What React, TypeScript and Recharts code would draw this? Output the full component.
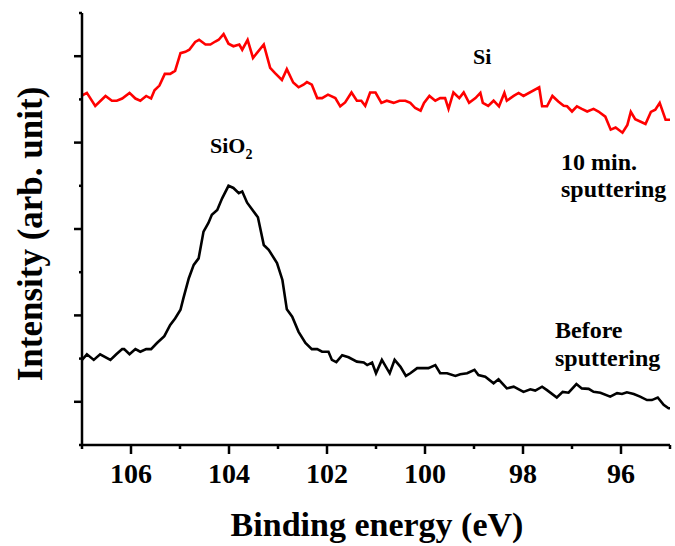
import React from 'react';
import { LineChart, Line, XAxis, YAxis } from 'recharts';

// binding energy (eV) and intensity (arb. unit), after 10 min. sputtering
const sputteredEnergy = [
  107.0, 106.9, 106.73, 106.52, 106.39, 106.29, 106.18, 106.03, 105.91, 105.81,
  105.69, 105.59, 105.52, 105.42, 105.31, 105.2, 105.1, 104.99, 104.89, 104.81,
  104.69, 104.61, 104.48, 104.38, 104.28, 104.21, 104.11, 104.01, 103.91, 103.79,
  103.73, 103.62, 103.51, 103.29, 103.16, 103.06, 102.92, 102.82, 102.69, 102.58,
  102.48, 102.41, 102.31, 102.2, 102.1, 101.98, 101.83, 101.73, 101.63, 101.5,
  101.39, 101.3, 101.22, 101.12, 101.01, 100.89, 100.78, 100.64, 100.52, 100.4,
  100.3, 100.2, 100.09, 100.02, 99.91, 99.79, 99.69, 99.59, 99.52, 99.42,
  99.3, 99.21, 99.1, 98.97, 98.87, 98.82, 98.71, 98.6, 98.49, 98.38,
  98.33, 98.19, 98.09, 97.99, 97.67, 97.61, 97.51, 97.4, 97.28, 97.17,
  97.1, 97.0, 96.9, 96.8, 96.69, 96.56, 96.46, 96.32, 96.21, 96.11,
  95.97, 95.87, 95.8, 95.71, 95.5, 95.39, 95.3, 95.21, 95.09, 95.0,
];
const sputteredIntensity = [
  8.09, 8.15, 7.85, 8.08, 7.97, 7.97, 8.02, 8.15, 8.02, 7.97,
  8.08, 8.02, 8.21, 8.32, 8.59, 8.59, 8.66, 9.07, 9.1, 9.15,
  9.33, 9.38, 9.27, 9.27, 9.34, 9.38, 9.51, 9.29, 9.23, 9.27,
  9.15, 9.38, 8.96, 9.27, 8.73, 8.61, 8.45, 8.7, 8.39, 8.28,
  8.34, 8.4, 8.34, 8.03, 8.03, 8.11, 8.03, 7.84, 7.93, 8.16,
  7.97, 7.97, 7.85, 8.16, 8.16, 7.92, 7.97, 7.92, 7.97, 7.97,
  7.92, 7.8, 7.74, 7.92, 8.08, 7.97, 8.03, 8.03, 7.78, 8.16,
  8.03, 8.16, 7.92, 8.03, 8.15, 7.92, 7.85, 7.97, 7.84, 8.15,
  7.97, 8.08, 8.15, 8.08, 8.28, 7.84, 7.84, 8.08, 7.95, 7.85,
  7.84, 7.72, 7.84, 7.78, 7.72, 7.78, 7.72, 7.6, 7.3, 7.35,
  7.23, 7.41, 7.71, 7.54, 7.43, 7.71, 7.76, 7.92, 7.53, 7.53,
];

// before sputtering
const beforeEnergy = [
  107.0, 106.9, 106.76, 106.63, 106.42, 106.3, 106.18, 106.14, 106.03, 105.91,
  105.81, 105.69, 105.59, 105.47, 105.32, 105.2, 105.1, 104.99, 104.93, 104.82,
  104.72, 104.62, 104.52, 104.42, 104.35, 104.24, 104.14, 104.01, 103.91, 103.8,
  103.73, 103.63, 103.52, 103.41, 103.29, 103.19, 103.02, 102.91, 102.82, 102.71,
  102.58, 102.44, 102.31, 102.2, 102.1, 101.97, 101.9, 101.81, 101.69, 101.56,
  101.39, 101.25, 101.18, 101.08, 101.0, 100.88, 100.72, 100.62, 100.5, 100.39,
  100.3, 100.16, 99.93, 99.79, 99.69, 99.55, 99.38, 99.28, 99.14, 98.99,
  98.91, 98.77, 98.6, 98.5, 98.33, 98.19, 97.99, 97.85, 97.75, 97.61,
  97.51, 97.31, 97.19, 97.07, 96.91, 96.8, 96.66, 96.56, 96.42, 96.22,
  96.08, 95.98, 95.88, 95.74, 95.61, 95.47, 95.37, 95.25, 95.13, 95.03, 95.0,
];
const beforeIntensity = [
  1.97, 2.1, 1.97, 2.1, 1.97, 2.1, 2.22, 2.22, 2.1, 2.22,
  2.16, 2.22, 2.22, 2.36, 2.52, 2.78, 2.93, 3.13, 3.4, 3.86,
  4.17, 4.32, 4.94, 5.14, 5.33, 5.44, 5.71, 6.0, 5.95, 5.83,
  5.87, 5.61, 5.44, 5.27, 4.63, 4.52, 4.21, 3.82, 3.14, 2.97,
  2.62, 2.36, 2.22, 2.22, 2.16, 2.16, 1.97, 1.92, 2.08, 2.03,
  1.93, 1.91, 1.85, 1.91, 1.66, 1.97, 1.66, 1.97, 1.81, 1.6,
  1.66, 1.78, 1.78, 1.85, 1.66, 1.66, 1.6, 1.64, 1.66, 1.74,
  1.62, 1.58, 1.43, 1.52, 1.31, 1.35, 1.23, 1.29, 1.26, 1.35,
  1.27, 1.1, 1.23, 1.21, 1.41, 1.31, 1.3, 1.23, 1.21, 1.12,
  1.2, 1.18, 1.22, 1.18, 1.12, 1.04, 1.04, 1.1, 0.93, 0.85, 0.85,
];

const xTicks = [95, 96, 97, 98, 99, 100, 101, 102, 103, 104, 105, 106, 107];
const yTicks = [0, 1, 2, 3, 4, 5, 6, 7, 8, 9, 10];

const sputteredData = sputteredEnergy.map((e, i) => ({ e, v: sputteredIntensity[i] }));
const beforeData = beforeEnergy.map((e, i) => ({ e, v: beforeIntensity[i] }));

const FONT = '"Liberation Serif", "Times New Roman", serif';

const XTick = (props: any) => {
  const { x, y, payload } = props;
  const major = payload.value % 2 === 0;
  return (
    <g>
      <line x1={x} x2={x} y1={y} y2={y + (major ? 9 : 4)} stroke="#000" strokeWidth={2.5} />
      {major && (
        <text x={x} y={y + 38} textAnchor="middle" fontFamily={FONT} fontWeight="bold" fontSize={28} fill="#000">
          {payload.value}
        </text>
      )}
    </g>
  );
};

const YTick = (props: any) => {
  const { x, y, payload } = props;
  const major = payload.value % 2 === 1;
  return <line x1={x} x2={x - (major ? 8 : 3)} y1={y} y2={y} stroke="#000" strokeWidth={2.5} />;
};

const labelStyle = { fontFamily: FONT, fontWeight: 'bold' as const, fill: '#000' };

export default function App() {
  return (
    <div style={{ position: 'relative', width: 675, height: 546, background: '#fff' }}>
      <style>{`body{margin:0}`}</style>
      <LineChart width={675} height={546} margin={{ top: 13, right: 5, bottom: 0, left: 0 }}>
        <XAxis
          type="number"
          dataKey="e"
          domain={[95, 107]}
          reversed
          ticks={xTicks}
          interval={0}
          height={101}
          tickSize={0}
          tickMargin={0}
          tickLine={false}
          axisLine={{ stroke: '#000', strokeWidth: 2.5 }}
          tick={<XTick />}
          allowDataOverflow
        />
        <YAxis
          type="number"
          domain={[0, 10]}
          ticks={yTicks}
          interval={0}
          width={82}
          tickSize={0}
          tickMargin={0}
          tickLine={false}
          axisLine={{ stroke: '#000', strokeWidth: 2.5 }}
          tick={<YTick />}
          allowDataOverflow
        />
        <Line data={sputteredData} dataKey="v" name="10 min. sputtering" type="linear" dot={false}
          stroke="#ff0000" strokeWidth={2.6} isAnimationActive={false} />
        <Line data={beforeData} dataKey="v" name="Before sputtering" type="linear" dot={false}
          stroke="#000000" strokeWidth={2.6} isAnimationActive={false} />
      </LineChart>
      <svg width={675} height={546} style={{ position: 'absolute', left: 0, top: 0, pointerEvents: 'none' }}>
        <text x={377} y={536} textAnchor="middle" fontSize={34} {...labelStyle}>Binding energy (eV)</text>
        <text x={42} y={234} textAnchor="middle" fontSize={35} transform="rotate(-90 42 234)" {...labelStyle}>
          Intensity (arb. unit)
        </text>
        <text x={473} y={64} fontSize={22} {...labelStyle}>Si</text>
        <text x={210} y={153} fontSize={22} {...labelStyle}>
          SiO<tspan fontSize={14} dy={6}>2</tspan>
        </text>
        <text x={561} y={170} fontSize={24} {...labelStyle}>10 min.</text>
        <text x={561} y={197} fontSize={24} {...labelStyle}>sputtering</text>
        <text x={555} y={338} fontSize={24} {...labelStyle}>Before</text>
        <text x={555} y={366} fontSize={24} {...labelStyle}>sputtering</text>
      </svg>
    </div>
  );
}
